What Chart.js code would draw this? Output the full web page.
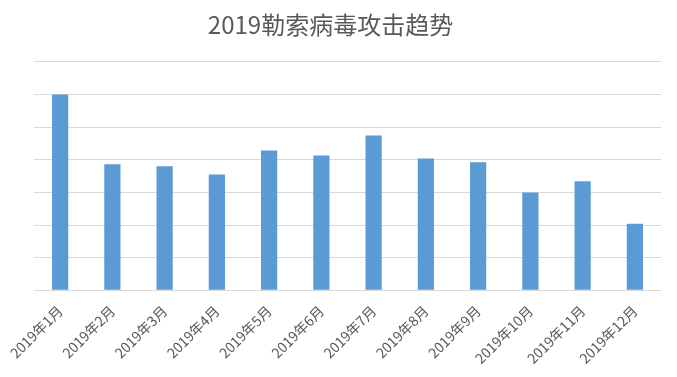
<!DOCTYPE html>
<html>
<head>
<meta charset="utf-8">
<script src="https://cdn.jsdelivr.net/npm/chart.js@4"></script>
<style>
  html, body { margin: 0; padding: 0; background: #fff; }
  #wrap { width: 677px; height: 377px; }
</style>
</head>
<body>
<div id="wrap"><canvas id="attacks"></canvas></div>
<script>
const months = ['2019年1月', '2019年2月', '2019年3月', '2019年4月', '2019年5月', '2019年6月',
                '2019年7月', '2019年8月', '2019年9月', '2019年10月', '2019年11月', '2019年12月'];
const attacks = [6.0, 3.86, 3.80, 3.55, 4.28, 4.13, 4.74, 4.04, 3.92, 3.0, 3.34, 2.04];
const chartTitle = '2019勒索病毒攻击趋势';

const font = "'Noto Sans CJK SC', 'Noto Sans', sans-serif";

const ctx = document.getElementById('attacks').getContext('2d');
new Chart(ctx, {
    type: 'bar',
    data: {
        labels: months,
        datasets: [
            {
                label: '攻击',
                data: attacks,
                backgroundColor: '#5B9BD5',
                borderWidth: 0,
                categoryPercentage: 1,
                barPercentage: 0.31
            }
        ]
    },
    options: {
        responsive: true,
        maintainAspectRatio: false,
        animation: false,
        layout: {
            padding: {left: 0, right: 16, top: 0, bottom: 6}
        },
        plugins: {
            legend: {display: false},
            tooltip: {enabled: false},
            title: {
                display: true,
                text: chartTitle,
                color: '#595959',
                font: {family: font, size: 24, weight: 'normal'},
                padding: {top: 10, bottom: 23}
            }
        },
        scales: {
            x: {
                grid: {display: false},
                border: {display: false},
                ticks: {
                    color: '#595959',
                    font: {family: font, size: 14},
                    minRotation: 45,
                    maxRotation: 45,
                    padding: 4
                }
            },
            y: {
                min: 0,
                max: 7,
                afterFit: (scale) => { scale.width = 34; },
                grid: {color: '#D9D9D9', lineWidth: 1, drawTicks: false},
                border: {display: false},
                ticks: {display: false, stepSize: 1}
            }
        }
    }
});
</script>
</body>
</html>
